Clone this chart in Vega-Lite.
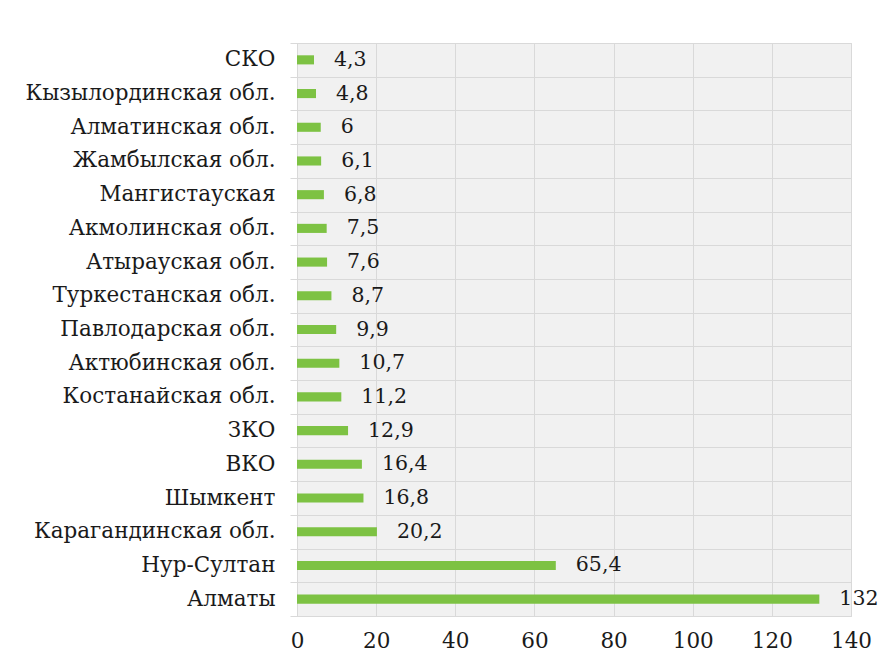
{
  "$schema": "https://vega.github.io/schema/vega-lite/v6.json",
  "width": 554,
  "height": 573,
  "autosize": {"type": "none"},
  "padding": {"left": 297, "top": 43, "right": 36, "bottom": 48},
  "background": "white",
  "data": {
    "values": [
      {"region": "СКО", "value": 4.3},
      {"region": "Кызылординская обл.", "value": 4.8},
      {"region": "Алматинская обл.", "value": 6},
      {"region": "Жамбылская обл.", "value": 6.1},
      {"region": "Мангистауская", "value": 6.8},
      {"region": "Акмолинская обл.", "value": 7.5},
      {"region": "Атырауская обл.", "value": 7.6},
      {"region": "Туркестанская обл.", "value": 8.7},
      {"region": "Павлодарская обл.", "value": 9.9},
      {"region": "Актюбинская обл.", "value": 10.7},
      {"region": "Костанайская обл.", "value": 11.2},
      {"region": "ЗКО", "value": 12.9},
      {"region": "ВКО", "value": 16.4},
      {"region": "Шымкент", "value": 16.8},
      {"region": "Карагандинская обл.", "value": 20.2},
      {"region": "Нур-Султан", "value": 65.4},
      {"region": "Алматы", "value": 132}
    ]
  },
  "encoding": {
    "y": {
      "field": "region",
      "type": "nominal",
      "sort": null,
      "scale": {"paddingInner": 0, "paddingOuter": 0},
      "axis": {
        "title": null,
        "tickBand": "extent",
        "grid": true,
        "domain": true,
        "domainColor": "#d9d9d9",
        "ticks": true,
        "tickColor": "#d9d9d9",
        "tickSize": 7,
        "labelPadding": 15,
        "labelLimit": 0
      }
    },
    "x": {
      "field": "value",
      "type": "quantitative",
      "scale": {"domain": [0, 140], "nice": false},
      "axis": {
        "title": null,
        "values": [0, 20, 40, 60, 80, 100, 120, 140],
        "ticks": false,
        "domain": false,
        "grid": true,
        "labelPadding": 14,
        "labelFlush": false
      }
    }
  },
  "layer": [
    {
      "mark": {"type": "bar", "color": "#7dc243", "height": {"band": 0.27}}
    },
    {
      "mark": {
        "type": "text",
        "align": "left",
        "baseline": "middle",
        "dx": 20,
        "font": "DejaVu Serif",
        "fontSize": 20.5,
        "color": "#1a1a1a"
      },
      "encoding": {
        "text": {"field": "value", "type": "quantitative", "format": "~g"}
      }
    }
  ],
  "config": {
    "locale": {
      "number": {"decimal": ",", "thousands": " ", "grouping": [3], "currency": ["", ""]}
    },
    "view": {"fill": "#f1f1f1", "stroke": "#d9d9d9", "strokeWidth": 1},
    "axis": {
      "labelFont": "DejaVu Serif",
      "labelFontSize": 21.5,
      "labelColor": "#1a1a1a",
      "gridColor": "#d9d9d9",
      "gridWidth": 1
    }
  }
}
